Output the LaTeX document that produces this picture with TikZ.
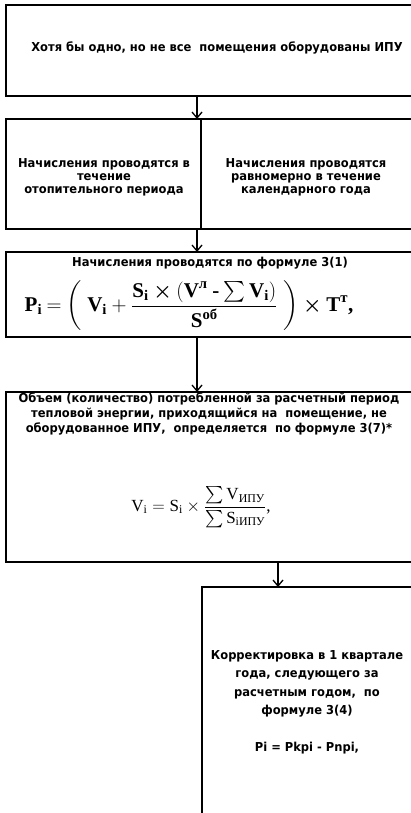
\documentclass[tikz,border=0pt]{standalone}
\usepackage{fontspec}
\usepackage{amsmath}
\usetikzlibrary{arrows.meta}
\setmainfont{DejaVu Sans}[FakeStretch=0.935]
\newfontfamily\ser{Liberation Serif}
\newcommand\RR[1]{\text{\ser #1}}
\newcommand\RB[1]{\text{\ser\bfseries #1}}
\begin{document}
\begin{tikzpicture}[x=1pt,y=-1pt,
  box/.style={draw,line width=1.6pt,inner sep=0pt,outer sep=0pt},
  lbl/.style={font=\bfseries\fontsize{12.3}{13}\selectfont,align=center,inner sep=0pt},
  arr/.style={line width=1.3pt,-{Straight Barb[length=6pt,width=10pt,line width=1.3pt]}}]
\useasboundingbox (0,0) rectangle (411,813);
\clip (0,0) rectangle (411,813);
\fill[white] (0,0) rectangle (411,813);
% boxes
\node[box,minimum width=414pt,minimum height=91pt] (b1) at (213,50.5) {};
\node[box,minimum width=414pt,minimum height=110pt] (b2) at (213,174) {};
\node[box,minimum width=414pt,minimum height=85pt] (b3) at (213,294.5) {};
\node[box,minimum width=414pt,minimum height=170pt] (b4) at (213,477) {};
\node[box,minimum width=228pt,minimum height=253pt] (b5) at (316,713.5) {};
% divider in box 2
\coordinate (dv) at (201,0);
\draw[line width=1.6pt] (b2.north -| dv) -- (b2.south -| dv);
% texts
\node[lbl] (t1) at (217,48) {Хотя бы одно, но не все\ \ помещения оборудованы ИПУ};
\node[lbl,font=\bfseries\fontsize{12.3}{12.8}\selectfont] (t2a) at (104,177) {Начисления проводятся в\\течение\\отопительного периода};
\node[lbl,font=\bfseries\fontsize{12.3}{12.8}\selectfont] (t2b) at (306,177) {Начисления проводятся\\равномерно в течение\\календарного года};
\node[lbl] (t3) at (210,263) {Начисления проводятся по формуле 3(1)};
\node[inner sep=0pt,font=\fontsize{21}{24}\selectfont] (f1) at (189,306)
 {$\RB{P}_{\RB{i}}\mathbin{\mathbf{=}}\biggl(\;\RB{V}_{\RB{i}}\mathbin{\mathbf{+}}\dfrac{\RB{S}_{\RB{i}}\mathbin{\boldsymbol{\times}}(\RB{V}^{\RB{л}}\mathbin{\RB{-}}\sum\RB{V}_{\RB{i}})}{\RB{S}^{\RB{об}}}\;\biggr)\boldsymbol{\times}\RB{T}^{\RB{т}}\RB{,}$};
\node[lbl,font=\bfseries\fontsize{12.3}{15}\selectfont] (t4) at (209,414) {Объем (количество) потребленной за расчетный период\\тепловой энергии, приходящийся на\ \ помещение, не\\оборудованное ИПУ,\ \ определяется\ \ по формуле 3(7)*};
\node[inner sep=0pt,font=\fontsize{17}{20}\selectfont] (f2) at (201,507)
 {$\RR{V}_{\RR{i}}=\RR{S}_{\RR{i}}\times\dfrac{\sum\RR{V}_{\RR{ИПУ}}}{\sum\RR{S}_{\RR{iИПУ}}}\RR{,}$};
\node[lbl,font=\bfseries\fontsize{12.3}{18.5}\selectfont] (t5) at (307,702) {Корректировка в 1 квартале\\года, следующего за\\расчетным годом,\ \ по\\формуле 3(4)\\[18pt]Pi = Pkpi - Pnpi,};
% connectors
\coordinate (ax) at (197,0);
\coordinate (bx) at (278,0);
\draw[arr] (b1.south -| ax) -- (b2.north -| ax);
\draw[arr] (b2.south -| ax) -- (b3.north -| ax);
\draw[arr] (b3.south -| ax) -- (b4.north -| ax);
\draw[arr] (b4.south -| bx) -- (b5.north -| bx);
\end{tikzpicture}
\end{document}
